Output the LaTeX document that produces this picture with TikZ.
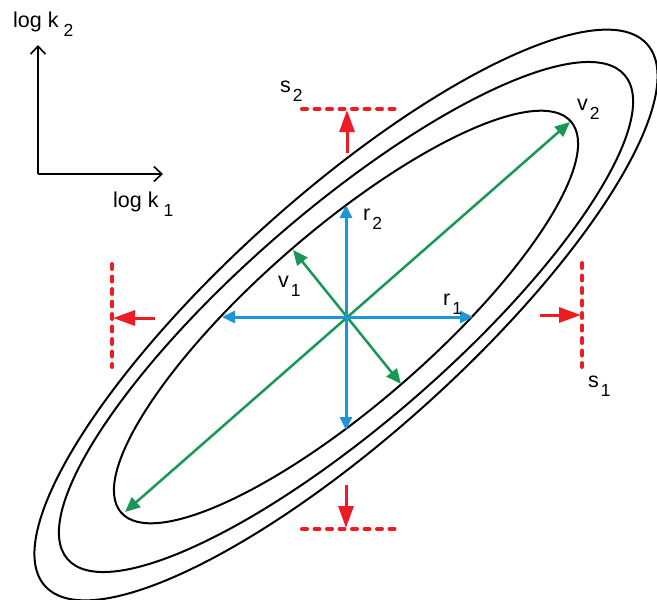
\documentclass[tikz,border=0pt]{standalone}
\usepackage{fontspec}
\setmainfont{Liberation Sans}
\usetikzlibrary{arrows.meta}
\definecolor{cred}{RGB}{237,28,36}
\definecolor{cgreen}{RGB}{24,152,84}
\definecolor{cblue}{RGB}{28,150,216}
\newcommand{\lab}[3][2pt]{#2\kern#1\raisebox{-9pt}{\fontsize{17.5}{17.5}\selectfont #3}}
\begin{document}
\begin{tikzpicture}[x=1pt,y=-1pt,
  contour/.style={line width=2pt, black},
  axisline/.style={line width=1.6pt, -{Straight Barb[length=8pt,width=15pt]}},
  lbl/.style={anchor=base west, inner sep=0pt, font=\fontsize{21.5}{21.5}\selectfont},
  redline/.style={cred, line width=4pt, dash pattern=on 5pt off 7.5pt, line cap=round},
  redarrow/.style={cred, line width=3pt, -{Triangle[length=22pt,width=15pt]}},
  greenarrow/.style={cgreen, line width=2.5pt, {Triangle[length=15pt,width=13pt]}-{Triangle[length=15pt,width=13pt]}},
  bluearrow/.style={cblue, line width=3pt, {Triangle[length=13pt,width=12pt]}-{Triangle[length=13pt,width=12pt]}}]
\useasboundingbox (0,0) rectangle (657,600);

% contours
\coordinate (c) at (346,317);
\coordinate (co) at (346,315);
\draw[contour, rotate around={41:(c)}] (c) ellipse [x radius=298, y radius=87];
\draw[contour, rotate around={41:(c)}] (c) ellipse [x radius=369, y radius=106];
\draw[contour, rotate around={42:(co)}] (co) ellipse [x radius=405, y radius=120];

% axes
\coordinate (o) at (38,174);
\coordinate (ytip) at (38,45);
\coordinate (xtip) at (163,174);
\draw[axisline] (o) -- (ytip);
\draw[axisline] (o) -- (xtip);
\node[lbl] (ly) at (13,27) {\lab[5pt]{log k}{2}};
\node[lbl] (lx) at (113,207) {\lab[5pt]{log k}{1}};

% red constraints
\coordinate (s2a) at (302,109); \coordinate (s2b) at (398,109);
\coordinate (s2f) at (347,153); \coordinate (s2t) at (347,110);
\draw[redline] (s2a) -- (s2b);
\draw[redarrow] (s2f) -- (s2t);

\coordinate (sba) at (302,529); \coordinate (sbb) at (398,529);
\coordinate (sbf) at (346,485); \coordinate (sbt) at (346,528);
\draw[redline] (sba) -- (sbb);
\draw[redarrow] (sbf) -- (sbt);

\coordinate (sla) at (112,264); \coordinate (slb) at (112,367);
\coordinate (slf) at (155,318); \coordinate (slt) at (113,318);
\draw[redline] (sla) -- (slb);
\draw[redarrow] (slf) -- (slt);

\coordinate (s1a) at (582,263); \coordinate (s1b) at (582,367);
\coordinate (s1f) at (540,315); \coordinate (s1t) at (581,315);
\draw[redline] (s1a) -- (s1b);
\draw[redarrow] (s1f) -- (s1t);

% green eigen-directions
\coordinate (v2a) at (125,512); \coordinate (v2b) at (570,122);
\coordinate (v1a) at (293,250); \coordinate (v1b) at (401,384);
\draw[greenarrow] (v2a) -- (v2b);
\draw[greenarrow] (v1a) -- (v1b);

% blue axes
\coordinate (r1a) at (222,317); \coordinate (r1b) at (473,317);
\coordinate (r2a) at (346,205); \coordinate (r2b) at (346,430);
\draw[bluearrow] (r1a) -- (r1b);
\draw[bluearrow] (r2b) -- (r2a);

% labels
\node[lbl] (ls2) at (280,92) {\lab{s}{2}};
\node[lbl] (lr2) at (363,220) {\lab{r}{2}};
\node[lbl] (lv1) at (278,287) {\lab{v}{1}};
\node[lbl] (lr1) at (443,305) {\lab{r}{1}};
\node[lbl] (lv2) at (577,110) {\lab{v}{2}};
\node[lbl] (ls1) at (588,387) {\lab{s}{1}};
\end{tikzpicture}
\end{document}
